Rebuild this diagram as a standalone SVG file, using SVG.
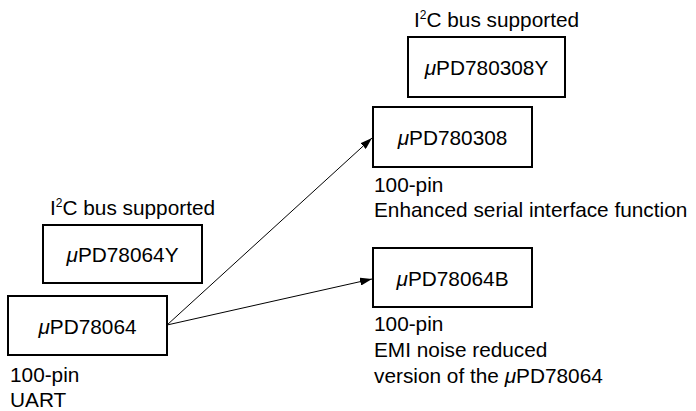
<svg xmlns="http://www.w3.org/2000/svg" width="696" height="411" viewBox="0 0 696 411">
<style>
text{font-family:"Liberation Sans",Arial,sans-serif;font-size:20.8px;fill:#000}
.box{fill:#fff;stroke:#000;stroke-width:2}
.mu{font-style:italic}
.sup{font-size:12px}
.c{text-anchor:middle}
.line{stroke:#000;stroke-width:1;fill:none;marker-end:url(#ah)}
</style>
<defs>
<marker id="ah" viewBox="0 0 12 8" refX="12" refY="4" markerWidth="12" markerHeight="8" markerUnits="userSpaceOnUse" orient="auto">
<path d="M0,0 L12,4 L0,8 Z" fill="#000"/>
</marker>
</defs>
<g id="connectors">
<line class="line" x1="167" y1="325" x2="372" y2="138"/>
<line class="line" x1="167" y1="325" x2="372" y2="279"/>
</g>
<g id="n780308Y">
<text x="414" y="27">I<tspan class="sup" dy="-8">2</tspan><tspan dy="8">C bus supported</tspan></text>
<rect class="box" x="408" y="37" width="157" height="60"/>
<text class="c" x="486.5" y="75"><tspan class="mu">μ</tspan>PD780308Y</text>
</g>
<g id="n780308">
<rect class="box" x="373" y="107" width="159" height="60"/>
<text class="c" x="452.5" y="145"><tspan class="mu">μ</tspan>PD780308</text>
<text x="374" y="192">100-pin</text>
<text x="374" y="217">Enhanced serial interface function</text>
</g>
<g id="n78064B">
<rect class="box" x="373" y="248" width="159" height="59"/>
<text class="c" x="452.5" y="286"><tspan class="mu">μ</tspan>PD78064B</text>
<text x="374" y="331">100-pin</text>
<text x="374" y="357">EMI noise reduced</text>
<text x="374" y="383">version of the <tspan class="mu">μ</tspan>PD78064</text>
</g>
<g id="n78064Y">
<text x="50" y="215">I<tspan class="sup" dy="-8">2</tspan><tspan dy="8">C bus supported</tspan></text>
<rect class="box" x="43" y="225" width="159" height="58"/>
<text class="c" x="122.5" y="262"><tspan class="mu">μ</tspan>PD78064Y</text>
</g>
<g id="n78064">
<rect class="box" x="8" y="296" width="159" height="59"/>
<text class="c" x="87.5" y="334"><tspan class="mu">μ</tspan>PD78064</text>
<text x="10" y="382">100-pin</text>
<text x="10" y="407">UART</text>
</g>
</svg>
